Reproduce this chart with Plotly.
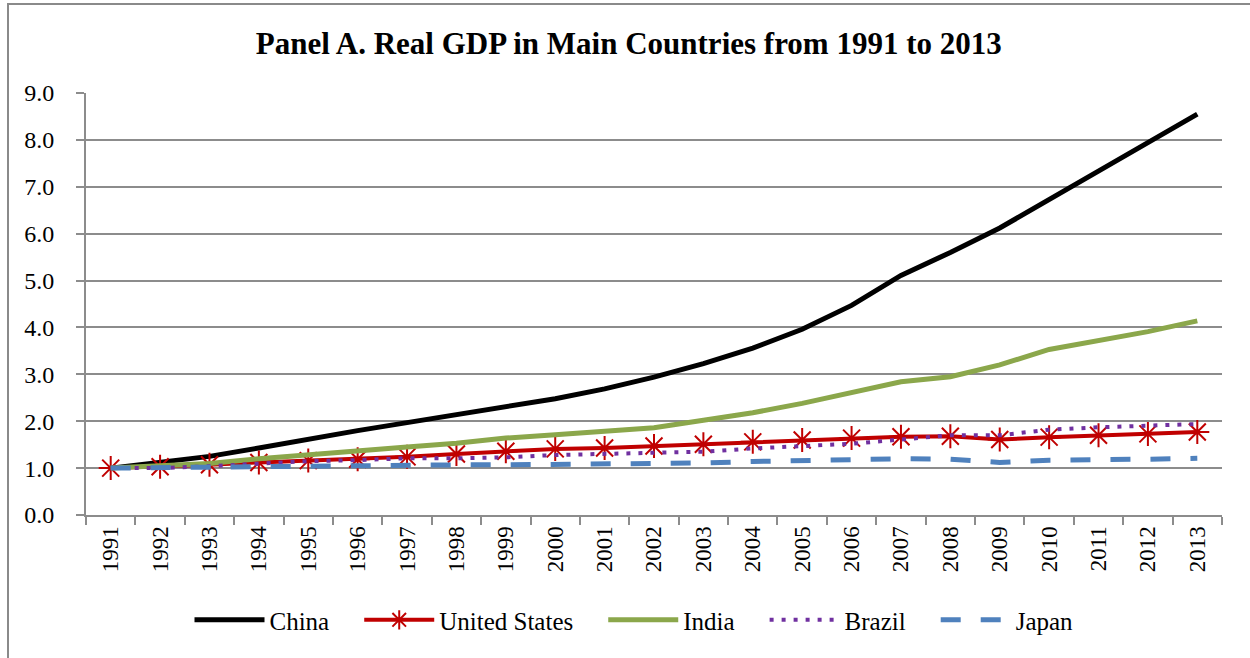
import plotly.graph_objects as go

years = [str(y) for y in range(1991, 2014)]
china = [1.00, 1.13, 1.25, 1.43, 1.62, 1.80, 1.97, 2.14, 2.30, 2.48, 2.69, 2.94,
         3.23, 3.56, 3.96, 4.47, 5.11, 5.60, 6.12, 6.73, 7.36, 7.96, 8.55]
united_states = [1.00, 1.03, 1.07, 1.12, 1.16, 1.19, 1.24, 1.30, 1.36, 1.41, 1.43, 1.47,
                 1.51, 1.56, 1.60, 1.64, 1.67, 1.68, 1.61, 1.66, 1.70, 1.73, 1.77]
india = [1.00, 1.05, 1.10, 1.20, 1.29, 1.38, 1.45, 1.53, 1.64, 1.71, 1.78, 1.86,
         2.02, 2.18, 2.38, 2.60, 2.84, 2.95, 3.20, 3.53, 3.73, 3.91, 4.14]
brazil = [1.00, 1.00, 1.04, 1.10, 1.15, 1.17, 1.21, 1.21, 1.23, 1.28, 1.30, 1.33,
          1.35, 1.42, 1.46, 1.52, 1.61, 1.70, 1.70, 1.82, 1.87, 1.90, 1.94]
japan = [1.00, 1.01, 1.02, 1.03, 1.04, 1.07, 1.08, 1.07, 1.07, 1.08, 1.09, 1.09,
         1.11, 1.14, 1.16, 1.18, 1.20, 1.19, 1.12, 1.17, 1.17, 1.19, 1.21]

SERIF = "Liberation Serif, Times New Roman, serif"
GRID = "#8c8c8c"
PAD = "\u00a0" * 4  # extra spacing between legend entries

fig = go.Figure()
fig.add_trace(go.Scatter(x=years, y=china, name="China" + PAD, mode="lines",
                         line=dict(color="#000000", width=5)))
fig.add_trace(go.Scatter(x=years, y=united_states, name="United States" + PAD,
                         mode="lines+markers",
                         line=dict(color="#C00000", width=4),
                         marker=dict(symbol="asterisk-open", size=20,
                                     line=dict(color="#C00000", width=2))))
fig.add_trace(go.Scatter(x=years, y=india, name="India" + PAD, mode="lines",
                         line=dict(color="#8BA74B", width=5)))
fig.add_trace(go.Scatter(x=years, y=brazil, name="Brazil" + PAD, mode="lines",
                         line=dict(color="#7030A0", width=4, dash="4px,8px")))
fig.add_trace(go.Scatter(x=years, y=japan, name="Japan", mode="lines",
                         line=dict(color="#4F81BD", width=5, dash="20px,20px")))

fig.update_layout(
    width=1250, height=658,
    margin=dict(l=86, r=28, t=93, b=143, autoexpand=False),
    paper_bgcolor="white", plot_bgcolor="white",
    font=dict(family=SERIF, size=24, color="#000000"),
    title=dict(text="<b>Panel A. Real GDP in Main Countries from 1991 to 2013</b>",
               x=0.503, xref="container", xanchor="center",
               y=1 - 43 / 658, yref="container", yanchor="middle",
               font=dict(family=SERIF, size=31, color="#000000")),
    showlegend=True,
    legend=dict(orientation="h", xref="paper", x=(634 - 86) / 1136, xanchor="center",
                yref="paper", y=-0.249, yanchor="middle",
                font=dict(family=SERIF, size=25, color="#000000"),
                itemwidth=70, bgcolor="rgba(0,0,0,0)"),
    xaxis=dict(type="category", range=[-0.5, 22.5], showgrid=False,
               tickmode="linear", dtick=1,
               showline=True, linecolor=GRID, linewidth=2,
               ticks="outside", ticklen=8, tickwidth=2, tickcolor=GRID,
               tickson="boundaries", tickangle=-90,
               tickfont=dict(family=SERIF, size=23, color="#000000")),
    yaxis=dict(range=[0, 9], dtick=1, tickformat=".1f",
               showgrid=True, gridcolor=GRID, gridwidth=2,
               showline=True, linecolor=GRID, linewidth=2,
               ticks="outside", ticklen=8, tickwidth=2, tickcolor=GRID,
               ticklabelstandoff=17, zeroline=False,
               tickfont=dict(family=SERIF, size=24, color="#000000")),
    shapes=[dict(type="rect", xref="paper", yref="paper",
                 x0=(8 - 86) / 1136, x1=(1252 - 86) / 1136,
                 y0=(515 - 662) / 422, y1=(515 - 4) / 422,
                 line=dict(color="#8a8a8a", width=2), fillcolor="rgba(0,0,0,0)",
                 layer="below")],
)

fig.write_html("out.html")
